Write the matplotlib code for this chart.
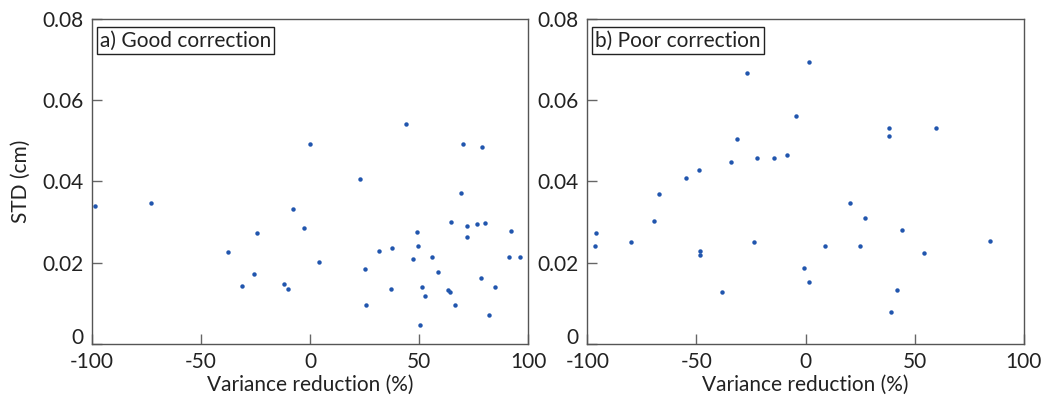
import matplotlib
matplotlib.use("Agg")
import matplotlib.pyplot as plt

# Panel a) Good correction
good_vr = [-98.5, -73.0, -37.5, -24.1, -25.5, -31.4, -7.9, -12.0, -10.3, -2.7, -0.2,
           3.9, 23.0, 25.3, 25.5, 31.7, 37.4, 37.1, 44.0, 47.2, 49.0, 49.6, 50.5, 51.5,
           52.7, 55.9, 58.6, 63.4, 64.1, 64.8, 66.7, 69.2, 70.1, 71.8, 71.8, 76.5, 78.8,
           78.5, 80.5, 82.3, 85.0, 92.1, 91.2, 96.4]
good_std = [0.0340, 0.0346, 0.0226, 0.0273, 0.0173, 0.0142, 0.0331, 0.0147, 0.0135, 0.0286, 0.0493,
            0.0201, 0.0407, 0.0185, 0.0095, 0.0229, 0.0236, 0.0135, 0.0542, 0.0209, 0.0275, 0.0240, 0.0046, 0.0140,
            0.0117, 0.0213, 0.0176, 0.0133, 0.0128, 0.0300, 0.0095, 0.0371, 0.0492, 0.0290, 0.0263, 0.0295, 0.0484,
            0.0162, 0.0297, 0.0072, 0.0140, 0.0279, 0.0213, 0.0213]

# Panel b) Poor correction
poor_vr = [-96.1, -96.3, -80.0, -69.4, -67.0, -54.7, -48.8, -48.3, -48.4, -38.5, -34.1,
           -31.3, -26.9, -23.5, -22.3, -14.4, -8.3, 1.8, -4.3, -0.9, 1.7, 8.9, 20.5,
           27.1, 25.0, 38.2, 38.4, 59.8, 44.4, 54.3, 42.1, 39.0, 84.7]
poor_std = [0.0273, 0.0242, 0.0252, 0.0303, 0.0369, 0.0409, 0.0429, 0.0229, 0.0220, 0.0127, 0.0447,
            0.0505, 0.0668, 0.0252, 0.0459, 0.0458, 0.0465, 0.0695, 0.0562, 0.0186, 0.0152, 0.0242, 0.0347,
            0.0310, 0.0242, 0.0532, 0.0513, 0.0531, 0.0281, 0.0225, 0.0133, 0.0078, 0.0253]

x_ticks = [-100, -50, 0, 50, 100]
x_tick_labels = ["-100", "-50", "0", "50", "100"]
y_ticks = [0, 0.02, 0.04, 0.06, 0.08]
y_tick_labels = ["0", "0.02", "0.04", "0.06", "0.08"]
titles = ["a) Good correction", "b) Poor correction"]
xlabel = "Variance reduction (%)"
ylabel = "STD (cm)"

plt.rcParams['font.family'] = ['Lato', 'DejaVu Sans']

fig = plt.figure(figsize=(10.41, 3.98), dpi=100)
ax1 = fig.add_axes([0.0884, 0.136, 0.4188, 0.816])
ax2 = fig.add_axes([0.5642, 0.136, 0.4192, 0.816])

dot_color = "#2156ae"
for ax, xs, ys, title in [(ax1, good_vr, good_std, titles[0]), (ax2, poor_vr, poor_std, titles[1])]:
    ax.plot(xs, ys, 'o', color=dot_color, markersize=3.2, markeredgewidth=0)
    ax.set_xlim(-100, 100)
    ax.set_ylim(0, 0.08)
    ax.set_xticks(x_ticks)
    ax.set_xticklabels(x_tick_labels)
    ax.set_yticks(y_ticks)
    ax.set_yticklabels(y_tick_labels)
    ax.tick_params(direction='in', length=7, width=1, colors='#666666', labelcolor='#222222',
                   labelsize=15, pad=6)
    ax.get_yticklabels()[0].set_verticalalignment('baseline')
    for s in ax.spines.values():
        s.set_color('#555555')
        s.set_linewidth(1.0)
    ax.set_xlabel(xlabel, fontsize=15, color='#222222', labelpad=2)
    ax.text(0.018, 0.965, title, transform=ax.transAxes, fontsize=15, color='#222222',
            va='top', ha='left',
            bbox=dict(boxstyle='square,pad=0.15', facecolor='white', edgecolor='#222222', linewidth=1))

ax1.set_ylabel(ylabel, fontsize=15, color='#222222', labelpad=8)

fig.savefig("out.png", dpi=100)
